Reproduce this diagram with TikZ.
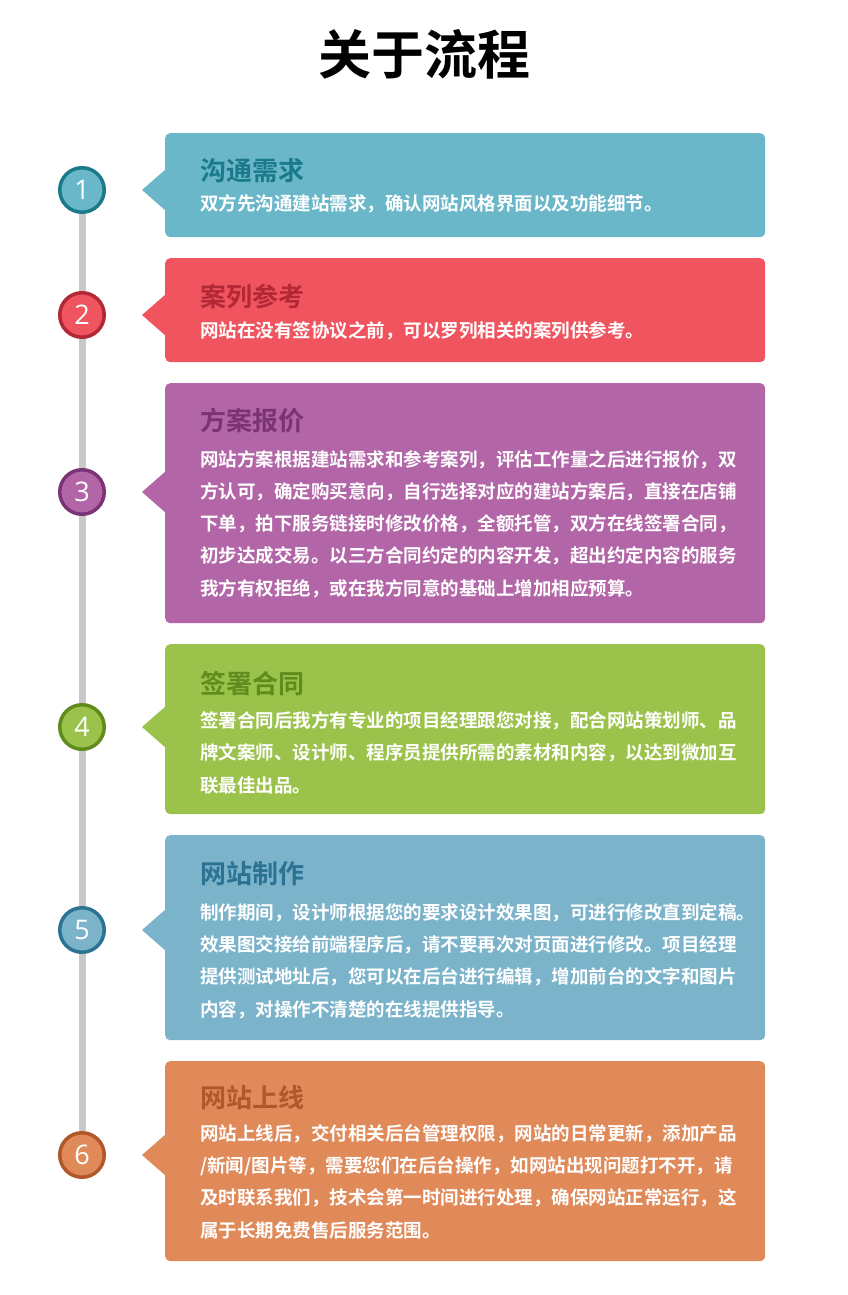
\documentclass[tikz,border=0pt]{standalone}
\usepackage{fontspec}
\usepackage{tikz}
\usetikzlibrary{positioning,backgrounds}
\newfontfamily\cjk{Noto Sans CJK SC}[BoldFont={Noto Sans CJK SC Bold}]
\newfontfamily\numfont{Open Sans}
\definecolor{linegray}{RGB}{200,200,200}
\definecolor{talkfill}{RGB}{107,183,202}
\definecolor{talkdark}{RGB}{26,122,138}
\definecolor{casefill}{RGB}{240,84,95}
\definecolor{casedark}{RGB}{178,40,52}
\definecolor{quotefill}{RGB}{179,102,167}
\definecolor{quotedark}{RGB}{122,52,118}
\definecolor{signfill}{RGB}{155,194,74}
\definecolor{signdark}{RGB}{95,140,28}
\definecolor{makefill}{RGB}{122,179,202}
\definecolor{makedark}{RGB}{44,115,147}
\definecolor{livefill}{RGB}{224,138,90}
\definecolor{livedark}{RGB}{176,88,42}

\begin{document}
\begin{tikzpicture}[
        x=1pt, y=-1pt,
        card/.style={rectangle, rounded corners=5pt, minimum width=600pt, anchor=north west, inner sep=0pt},
        stepnum/.style={circle, line width=3.5pt, minimum size=44.5pt, inner sep=0pt, text=white, font=\numfont\fontsize{27}{27}\selectfont},
        cardtitle/.style={anchor=base west, inner sep=0pt, font=\cjk\bfseries\fontsize{26}{30}\selectfont},
        cardtext/.style={anchor=base west, inner sep=0pt, align=left, text=white, font=\cjk\bfseries\fontsize{18.5}{32.2}\selectfont},
        timeline/.style={line width=7pt, draw=linegray}
    ]
        \useasboundingbox (0,0) rectangle (848,1295);

        % Heading
        \node[anchor=base, inner sep=0pt, font=\cjk\bfseries\fontsize{53}{56}\selectfont] (heading) at (424,75) {关于流程};

        % Step circles
        \node[stepnum, draw=talkdark, fill=talkfill] (n1) at (82,190) {1};
        \node[stepnum, draw=casedark, fill=casefill] (n2) at (82,315) {2};
        \node[stepnum, draw=quotedark, fill=quotefill] (n3) at (82,492) {3};
        \node[stepnum, draw=signdark, fill=signfill] (n4) at (82,727) {4};
        \node[stepnum, draw=makedark, fill=makefill] (n5) at (82,930) {5};
        \node[stepnum, draw=livedark, fill=livefill] (n6) at (82,1155) {6};

        \begin{scope}[on background layer]
            \fill[white] (0,0) rectangle (848,1295);
            \draw[timeline] (n1) -- (n6);
        \end{scope}

        % Cards (text nodes sit on the baseline of their last line)
        \node[card, fill=talkfill, minimum height=104pt] (talk) at (165,133) {};
        \fill[talkfill] (166,169) -- (142,190) -- (166,211) -- cycle;
        \node[cardtitle, text=talkdark] (talktitle) at (200,180) {沟通需求};
        \node[cardtext] (talktext) at (200,210) {双方先沟通建站需求，确认网站风格界面以及功能细节。};

        \node[card, fill=casefill, minimum height=104pt] (case) at (165,258) {};
        \fill[casefill] (166,294) -- (142,315) -- (166,336) -- cycle;
        \node[cardtitle, text=casedark] (casetitle) at (200,306) {案列参考};
        \node[cardtext] (casetext) at (200,337) {网站在没有签协议之前，可以罗列相关的案列供参考。};

        \node[card, fill=quotefill, minimum height=240pt] (quote) at (165,383) {};
        \fill[quotefill] (166,471) -- (142,492) -- (166,513) -- cycle;
        \node[cardtitle, text=quotedark] (quotetitle) at (200,430) {方案报价};
        \node[cardtext] (quotetext) at (200,595) {网站方案根据建站需求和参考案列，评估工作量之后进行报价，双\\方认可，确定购买意向，自行选择对应的建站方案后，直接在店铺\\下单，拍下服务链接时修改价格，全额托管，双方在线签署合同，\\初步达成交易。以三方合同约定的内容开发，超出约定内容的服务\\我方有权拒绝，或在我方同意的基础上增加相应预算。};

        \node[card, fill=signfill, minimum height=170pt] (sign) at (165,644) {};
        \fill[signfill] (166,706) -- (142,727) -- (166,748) -- cycle;
        \node[cardtitle, text=signdark] (signtitle) at (200,693) {签署合同};
        \node[cardtext] (signtext) at (200,792) {签署合同后我方有专业的项目经理跟您对接，配合网站策划师、品\\牌文案师、设计师、程序员提供所需的素材和内容，以达到微加互\\联最佳出品。};

        \node[card, fill=makefill, minimum height=205pt] (make) at (165,835) {};
        \fill[makefill] (166,909) -- (142,930) -- (166,951) -- cycle;
        \node[cardtitle, text=makedark] (maketitle) at (200,883) {网站制作};
        \node[cardtext] (maketext) at (200,1016) {制作期间，设计师根据您的要求设计效果图，可进行修改直到定稿。\\效果图交接给前端程序后，请不要再次对页面进行修改。项目经理\\提供测试地址后，您可以在后台进行编辑，增加前台的文字和图片\\内容，对操作不清楚的在线提供指导。};

        \node[card, fill=livefill, minimum height=200pt] (live) at (165,1061) {};
        \fill[livefill] (166,1134) -- (142,1155) -- (166,1176) -- cycle;
        \node[cardtitle, text=livedark] (livetitle) at (200,1107) {网站上线};
        \node[cardtext] (livetext) at (200,1237) {网站上线后，交付相关后台管理权限，网站的日常更新，添加产品\\/新闻/图片等，需要您们在后台操作，如网站出现问题打不开，请\\及时联系我们，技术会第一时间进行处理，确保网站正常运行，这\\属于长期免费售后服务范围。};
    \end{tikzpicture}
\end{document}
